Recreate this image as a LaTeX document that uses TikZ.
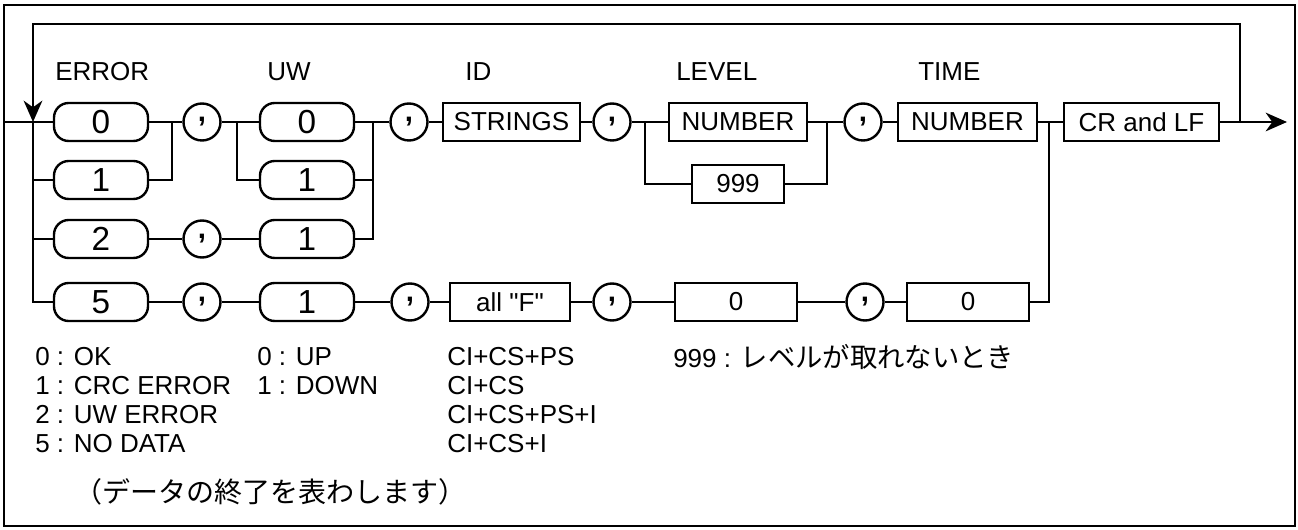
\documentclass[tikz,border=0pt]{standalone}
\usepackage{fontspec}
\setmainfont{Liberation Sans}
\newfontfamily\qfont{Liberation Sans}[Ligatures=TeXOff]
\newfontfamily\jpfont{Noto Sans CJK JP}
\usetikzlibrary{arrows.meta}
\begin{document}
\begin{tikzpicture}[x=0.75pt,y=-0.75pt,
  every node/.style={font=\fontsize{19.5pt}{23pt}\selectfont, inner sep=0pt},
  conn/.style={line width=1.8pt},
  stad/.style={draw, line width=1.8pt, rounded corners=11pt, minimum width=70.5pt, minimum height=28.5pt, font=\fontsize{25pt}{28pt}\selectfont},
  commanode/.style={draw, circle, line width=1.8pt, minimum size=27.75pt, font=\fontsize{22pt}{24pt}\selectfont\bfseries},
  bx/.style={draw, line width=1.8pt, minimum height=28.5pt},
  lbl/.style={anchor=west},
  jp/.style={anchor=west},
  tip/.style={-{Stealth[length=16pt,width=14pt,inset=5pt]}}
]
\useasboundingbox (0,0) rectangle (1298,530);
\draw[line width=1.2pt] (4,5) rectangle (1295,526);

% labels
\node[lbl] (lerr) at (55,72) {ERROR};
\node[lbl] (luw) at (267,72) {UW};
\node[lbl] (lid) at (465,72) {ID};
\node[lbl] (llev) at (676,72) {LEVEL};
\node[lbl] (ltim) at (918,72) {TIME};

% ERROR column
\node[stad] (e0) at (101,122) {0};
\node[stad] (e1) at (101,180) {1};
\node[stad] (e2) at (101,239) {2};
\node[stad] (e5) at (101,302) {5};
% commas after error
\node[commanode] (c1) at (202,122) {,};
\node[commanode] (c3r) at (202,239) {,};
\node[commanode] (c4r) at (202,302) {,};
% UW column
\node[stad] (u0) at (307,122) {0};
\node[stad] (u1) at (307,180) {1};
\node[stad] (u2) at (307,239) {1};
\node[stad] (u5) at (307,302) {1};
% row 1
\node[commanode] (c2) at (409,122) {,};
\node[bx, minimum width=102.75pt] (str) at (511.5,122) {STRINGS};
\node[commanode] (c3) at (612,122) {,};
\node[bx, minimum width=103.5pt] (lvl) at (738,122) {NUMBER};
\node[bx, minimum width=69pt] (nnn) at (738,184) {999};
\node[commanode] (c4) at (863,122) {,};
\node[bx, minimum width=104.25pt] (tim) at (967.5,122) {NUMBER};
\node[bx, minimum width=116.25pt] (crlf) at (1141.5,122) {CR and LF};
% row 4
\node[commanode] (c5b) at (410,302) {,};
\node[bx, minimum width=90pt] (allf) at (510,302) {{\qfont all "F"}};
\node[commanode] (c5c) at (612,302) {,};
\node[bx, minimum width=91.5pt] (z1) at (736,302) {0};
\node[commanode] (c5d) at (865,302) {,};
\node[bx, minimum width=91.5pt] (z2) at (968,302) {0};

% junctions
\coordinate (jin) at (4,122);
\coordinate (bus) at (33,122);
\coordinate (busTop) at (33,24);
\coordinate (jE) at (172,122);
\coordinate (jU1) at (237,122);
\coordinate (jU2) at (373,122);
\coordinate (jL1) at (645,122);
\coordinate (jL2) at (827,122);
\coordinate (jT) at (1049,122);
\coordinate (jO) at (1240,122);
\coordinate (out) at (1287,122);

% connectors
\draw[conn] (jin) -- (e0);
\draw[conn,tip] (jO) |- (busTop) -- (bus);
\draw[conn] (bus) |- (e1);
\draw[conn] (bus) |- (e2);
\draw[conn] (bus) |- (e5);
\draw[conn] (e0) -- (c1);
\draw[conn] (e1) -| (jE);
\draw[conn] (c1) -- (u0);
\draw[conn] (jU1) |- (u1);
\draw[conn] (u0) -- (c2);
\draw[conn] (u1) -| (jU2);
\draw[conn] (u2) -| (jU2);
\draw[conn] (e2) -- (c3r) -- (u2);
\draw[conn] (c2) -- (str) -- (c3) -- (lvl) -- (c4) -- (tim) -- (crlf);
\draw[conn] (jL1) |- (nnn);
\draw[conn] (nnn) -| (jL2);
\draw[conn,tip] (crlf) -- (out);
\draw[conn] (e5) -- (c4r) -- (u5) -- (c5b) -- (allf) -- (c5c) -- (z1) -- (c5d) -- (z2);
\draw[conn] (z2) -| (jT);

% legends
\node[lbl] (k0) at (35,357) {0 : OK};
\node[lbl] (k1) at (35,386) {1 : CRC ERROR};
\node[lbl] (k2) at (35,415) {2 : UW ERROR};
\node[lbl] (k5) at (35,444) {5 : NO DATA};
\node[lbl] (w0) at (257,357) {0 : UP};
\node[lbl] (w1) at (257,386) {1 : DOWN};
\node[lbl] (i1) at (447,357) {CI+CS+PS};
\node[lbl] (i2) at (447,386) {CI+CS};
\node[lbl] (i3) at (447,415) {CI+CS+PS+I};
\node[lbl] (i4) at (447,444) {CI+CS+I};
\node[lbl] (lv) at (673,357) {999 : {\jpfont\fontsize{20.5pt}{24pt}\selectfont レベルが取れないとき}};
\node[jp] (note) at (74,492) {\jpfont\fontsize{21pt}{24pt}\selectfont （データの終了を表わします）};
\end{tikzpicture}
\end{document}
